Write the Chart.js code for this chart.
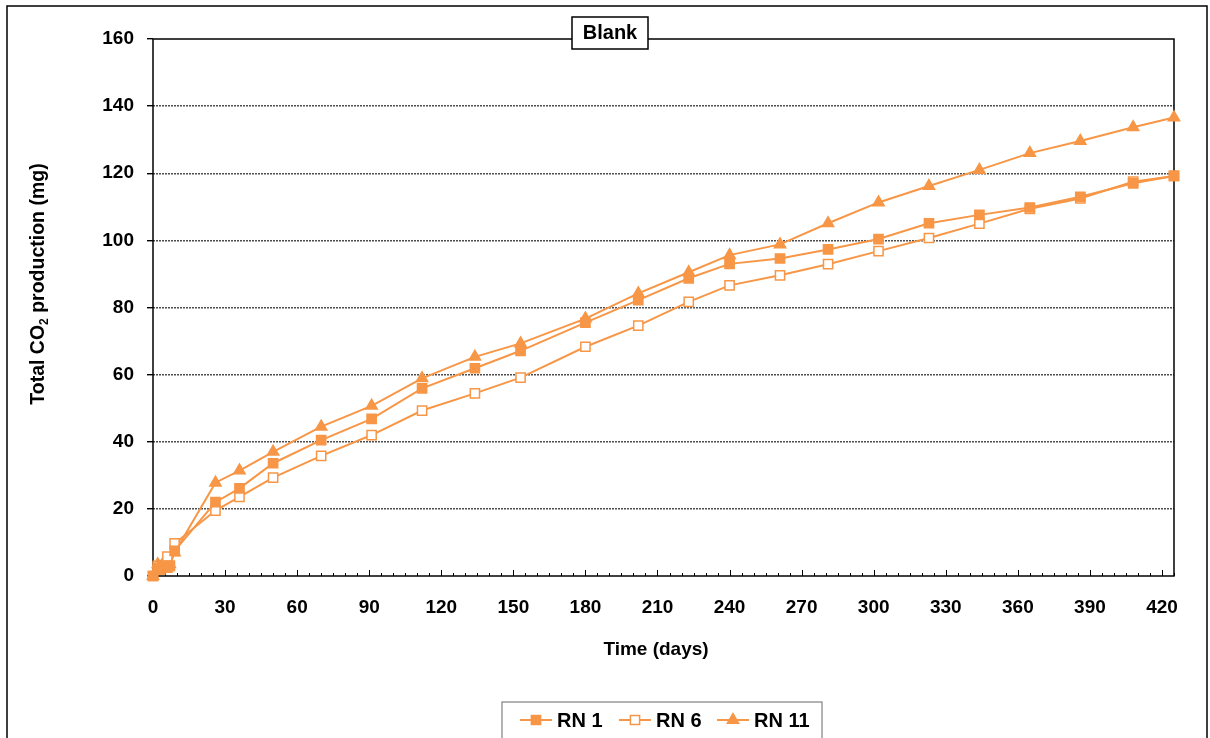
<!DOCTYPE html>
<html>
<head>
<meta charset="utf-8">
<title>Blank - total CO2 production</title>
<script src="https://cdn.jsdelivr.net/npm/chart.js@4/dist/chart.umd.min.js"></script>
<style>
  html, body { margin: 0; padding: 0; background: #fff; }
  #wrap { position: relative; width: 1210px; height: 738px; }
</style>
</head>
<body>
<div id="wrap"><canvas id="co2Chart" width="1210" height="738"></canvas></div>
<script>
  // sampling days and cumulative CO2 (mg) per reactor
  const days = [0, 2, 3, 4, 6, 7, 9, 26, 36, 50, 70, 91, 112, 134, 153, 180, 202, 223, 240, 261, 281, 302, 323, 344, 365, 386, 408, 425];
  const rn1 = [0, 2.5, 2, 3, 2.5, 3, 7.5, 22.0, 26.1, 33.6, 40.5, 46.8, 55.9, 61.9, 67.1, 75.5, 82.2, 88.7, 93.0, 94.6, 97.3, 100.4, 105.1, 107.6, 109.8, 113.0, 117.0, 119.2];
  const rn6 = [0, 3, 2, 3, 5.8, 3, 9.7, 19.5, 23.6, 29.3, 35.8, 42.0, 49.3, 54.4, 59.1, 68.3, 74.6, 81.7, 86.6, 89.6, 92.9, 96.8, 100.7, 105.0, 109.4, 112.5, 117.5, 119.2];
  const rn11 = [0, 3.5, 2.5, 3.5, 3, 3.5, 7, 27.8, 31.4, 37.0, 44.5, 50.7, 58.9, 65.3, 69.3, 76.7, 84.2, 90.5, 95.6, 98.8, 105.1, 111.3, 116.2, 121.0, 126.0, 129.6, 133.7, 136.6];
  const seriesNames = ["RN 1", "RN 6", "RN 11"];

  const ORANGE = "#F79646";
  const FONT = "'Liberation Sans', Arial, sans-serif";

  const toPoints = vals => vals.map((v, i) => ({ x: days[i], y: v }));

  /* ---------------------------------------------------
      FRAME, TICKS, TITLES, LEGEND
  ---------------------------------------------------- */
  const decorations = {
    id: "decorations",
    beforeDatasetsDraw(chart) {
      const { ctx, chartArea: a, scales: { x } } = chart;
      ctx.save();
      ctx.strokeStyle = "#000";
      ctx.lineWidth = 1.5;
      ctx.strokeRect(a.left, a.top, a.right - a.left, a.bottom - a.top);

      // x axis tick marks pointing up into the plot
      ctx.lineWidth = 1;
      for (let d = 0; d <= x.max; d += 5) {
        const px = Math.round(x.getPixelForValue(d)) + 0.5;
        const len = d % 30 === 0 ? 6 : 3;
        ctx.beginPath();
        ctx.moveTo(px, a.bottom);
        ctx.lineTo(px, a.bottom - len);
        ctx.stroke();
      }
      ctx.restore();
    },
    afterDraw(chart) {
      const { ctx } = chart;
      ctx.save();

      // outer border
      ctx.strokeStyle = "#000";
      ctx.lineWidth = 1.5;
      ctx.beginPath();
      ctx.moveTo(7, 745);
      ctx.lineTo(7, 6);
      ctx.lineTo(1207, 6);
      ctx.lineTo(1207, 745);
      ctx.stroke();

      // boxed title on the top edge
      ctx.fillStyle = "#fff";
      ctx.fillRect(572, 17, 76, 32);
      ctx.strokeRect(572, 17, 76, 32);
      ctx.fillStyle = "#000";
      ctx.font = `bold 20px ${FONT}`;
      ctx.textAlign = "center";
      ctx.textBaseline = "middle";
      ctx.fillText("Blank", 610, 33);

      // x axis title
      ctx.font = `bold 19px ${FONT}`;
      ctx.fillText("Time (days)", 656, 650);

      // y axis title with subscript
      ctx.translate(37, 284);
      ctx.rotate(-Math.PI / 2);
      const p1 = "Total CO", sub = "2", p2 = " production (mg)";
      ctx.font = `bold 19.5px ${FONT}`;
      const w1 = ctx.measureText(p1).width;
      const w3 = ctx.measureText(p2).width;
      ctx.font = `bold 12px ${FONT}`;
      const w2 = ctx.measureText(sub).width;
      let sx = -(w1 + w2 + w3) / 2;
      ctx.textAlign = "left";
      ctx.textBaseline = "alphabetic";
      ctx.font = `bold 19.5px ${FONT}`;
      ctx.fillText(p1, sx, 7);
      sx += w1;
      ctx.font = `bold 12px ${FONT}`;
      ctx.fillText(sub, sx, 11);
      sx += w2;
      ctx.font = `bold 19.5px ${FONT}`;
      ctx.fillText(p2, sx, 7);
      ctx.setTransform(1, 0, 0, 1, 0, 0);

      // legend box
      ctx.strokeStyle = "#808080";
      ctx.lineWidth = 1.2;
      ctx.fillStyle = "#fff";
      ctx.fillRect(502, 702, 320, 50);
      ctx.strokeRect(502, 702, 320, 50);
      const items = [
        { x: 520, style: "rect", fill: ORANGE },
        { x: 619, style: "rect", fill: "#fff" },
        { x: 717, style: "triangle", fill: ORANGE }
      ];
      const ly = 720;
      items.forEach((it, i) => {
        ctx.strokeStyle = ORANGE;
        ctx.lineWidth = 2;
        ctx.beginPath();
        ctx.moveTo(it.x, ly);
        ctx.lineTo(it.x + 32, ly);
        ctx.stroke();
        ctx.fillStyle = it.fill;
        ctx.lineWidth = 1.5;
        Chart.helpers.drawPoint(ctx, { pointStyle: it.style, radius: 6.5, borderWidth: 1.5 }, it.x + 16, ly);
        ctx.fillStyle = "#000";
        ctx.font = `bold 20px ${FONT}`;
        ctx.textAlign = "left";
        ctx.textBaseline = "middle";
        ctx.fillText(seriesNames[i], it.x + 37, ly + 1);
      });
      ctx.restore();
    }
  };

  const lineDefaults = {
    borderColor: ORANGE,
    borderWidth: 2,
    pointRadius: 6.5,
    pointBorderColor: ORANGE,
    pointBorderWidth: 1.5,
    tension: 0,
    clip: false
  };

  new Chart(document.getElementById("co2Chart"), {
    type: "line",
    data: {
      datasets: [
        { ...lineDefaults, label: seriesNames[0], data: toPoints(rn1), pointStyle: "rect", pointBackgroundColor: ORANGE },
        { ...lineDefaults, label: seriesNames[1], data: toPoints(rn6), pointStyle: "rect", pointBackgroundColor: "#fff" },
        { ...lineDefaults, label: seriesNames[2], data: toPoints(rn11), pointStyle: "triangle", pointBackgroundColor: ORANGE }
      ]
    },
    options: {
      responsive: false,
      animation: false,
      layout: { padding: { top: 39, right: 36, left: 0, bottom: 0 } },
      plugins: { legend: { display: false }, tooltip: { enabled: false } },
      scales: {
        x: {
          type: "linear",
          min: 0,
          max: 425,
          grid: { display: false },
          border: { display: false },
          ticks: {
            stepSize: 30,
            includeBounds: false,
            maxRotation: 0,
            padding: 12,
            color: "#000",
            font: { family: FONT, size: 19, weight: "bold" }
          },
          afterFit(scale) { scale.height = 162; }
        },
        y: {
          min: 0,
          max: 160,
          grid: {
            color: ctx => (ctx.tick && (ctx.tick.value === 0 || ctx.tick.value === 160)) ? "rgba(0,0,0,0)" : "#4d4d4d",
            lineWidth: 1.4,
            tickLength: 6,
            tickColor: "#000"
          },
          border: { display: false, dash: [2, 1] },
          ticks: {
            stepSize: 20,
            padding: 13,
            color: "#000",
            font: { family: FONT, size: 19, weight: "bold" }
          },
          afterFit(scale) { scale.width = 153; }
        }
      }
    },
    plugins: [decorations]
  });
</script>
</body>
</html>
